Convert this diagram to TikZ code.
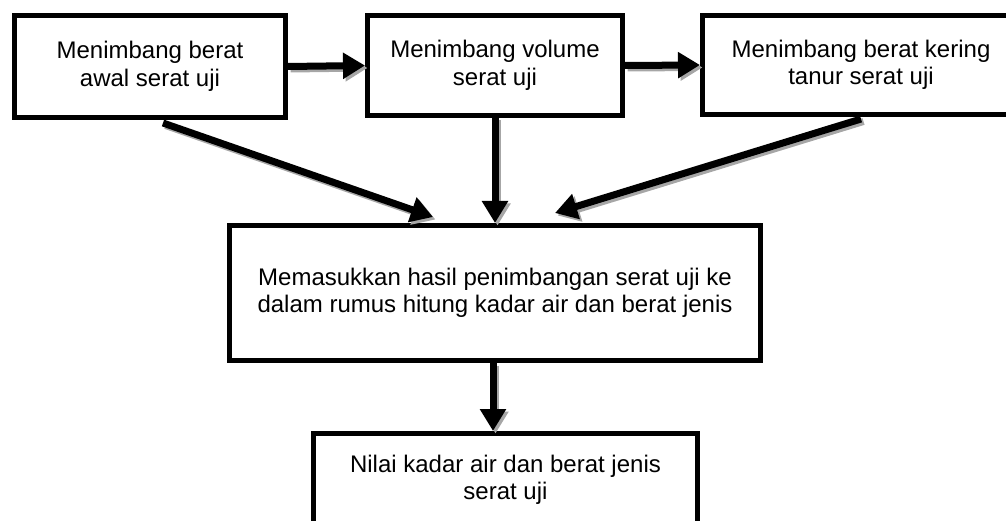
\documentclass[tikz,border=0pt]{standalone}
\usepackage{fontspec}
\setmainfont{Liberation Sans}
\usetikzlibrary{arrows.meta}
\newcommand\flowarrow[2]{%
  \draw[arrshadow] #1 -- #2;
  \draw[arr] #1 -- #2;}
\begin{document}
\begin{tikzpicture}[x=1pt,y=-1pt,
  box/.style={draw=black, line width=5pt, fill=white, align=center, inner sep=0pt,
    font=\fontsize{24}{27.5}\selectfont},
  txt/.style={align=center, inner sep=0pt, font=\fontsize{24}{27.5}\selectfont},
  arr/.style={draw=black, line width=7pt, -{Triangle[length=22pt,width=25pt]}},
  arrshadow/.style={arr, draw=black!35, transform canvas={xshift=2.5pt,yshift=-2.5pt}}]
\useasboundingbox (0,0) rectangle (1006,521);
\clip (0,0) rectangle (1006,521);
\node[box, minimum width=271pt, minimum height=102pt] (b1) at (150,66.5)
  {Menimbang berat\\awal serat uji};
\node[box, minimum width=255pt, minimum height=100pt] (b2) at (495,65.5)
  {Menimbang volume\\serat uji};
\node[box, minimum width=317pt, minimum height=99pt] (b3) at (861,65)
  {Menimbang berat kering\\tanur serat uji};
\node[box, minimum width=531pt, minimum height=135pt] (m) at (495,293)
  {Memasukkan hasil penimbangan serat uji ke\\dalam rumus hitung kadar air dan berat jenis};
\node[box, minimum width=384pt, minimum height=133pt] (r) at (505.5,500) {};
\node[txt] (rt) at (505.5,480) {Nilai kadar air dan berat jenis\\serat uji};
\flowarrow{(b1.east)}{(b2.west)}
\flowarrow{(b2.east)}{(b3.west)}
\flowarrow{([xshift=13pt,yshift=-3pt]b1.south)}{([xshift=-62pt,yshift=6pt]m.north)}
\flowarrow{(b2.south)}{(m.north)}
\flowarrow{([yshift=-2pt]b3.south)}{([xshift=60pt,yshift=10pt]m.north)}
\flowarrow{([xshift=-2pt]m.south)}{([xshift=-2pt]m.south |- r.north)}
\end{tikzpicture}
\end{document}
